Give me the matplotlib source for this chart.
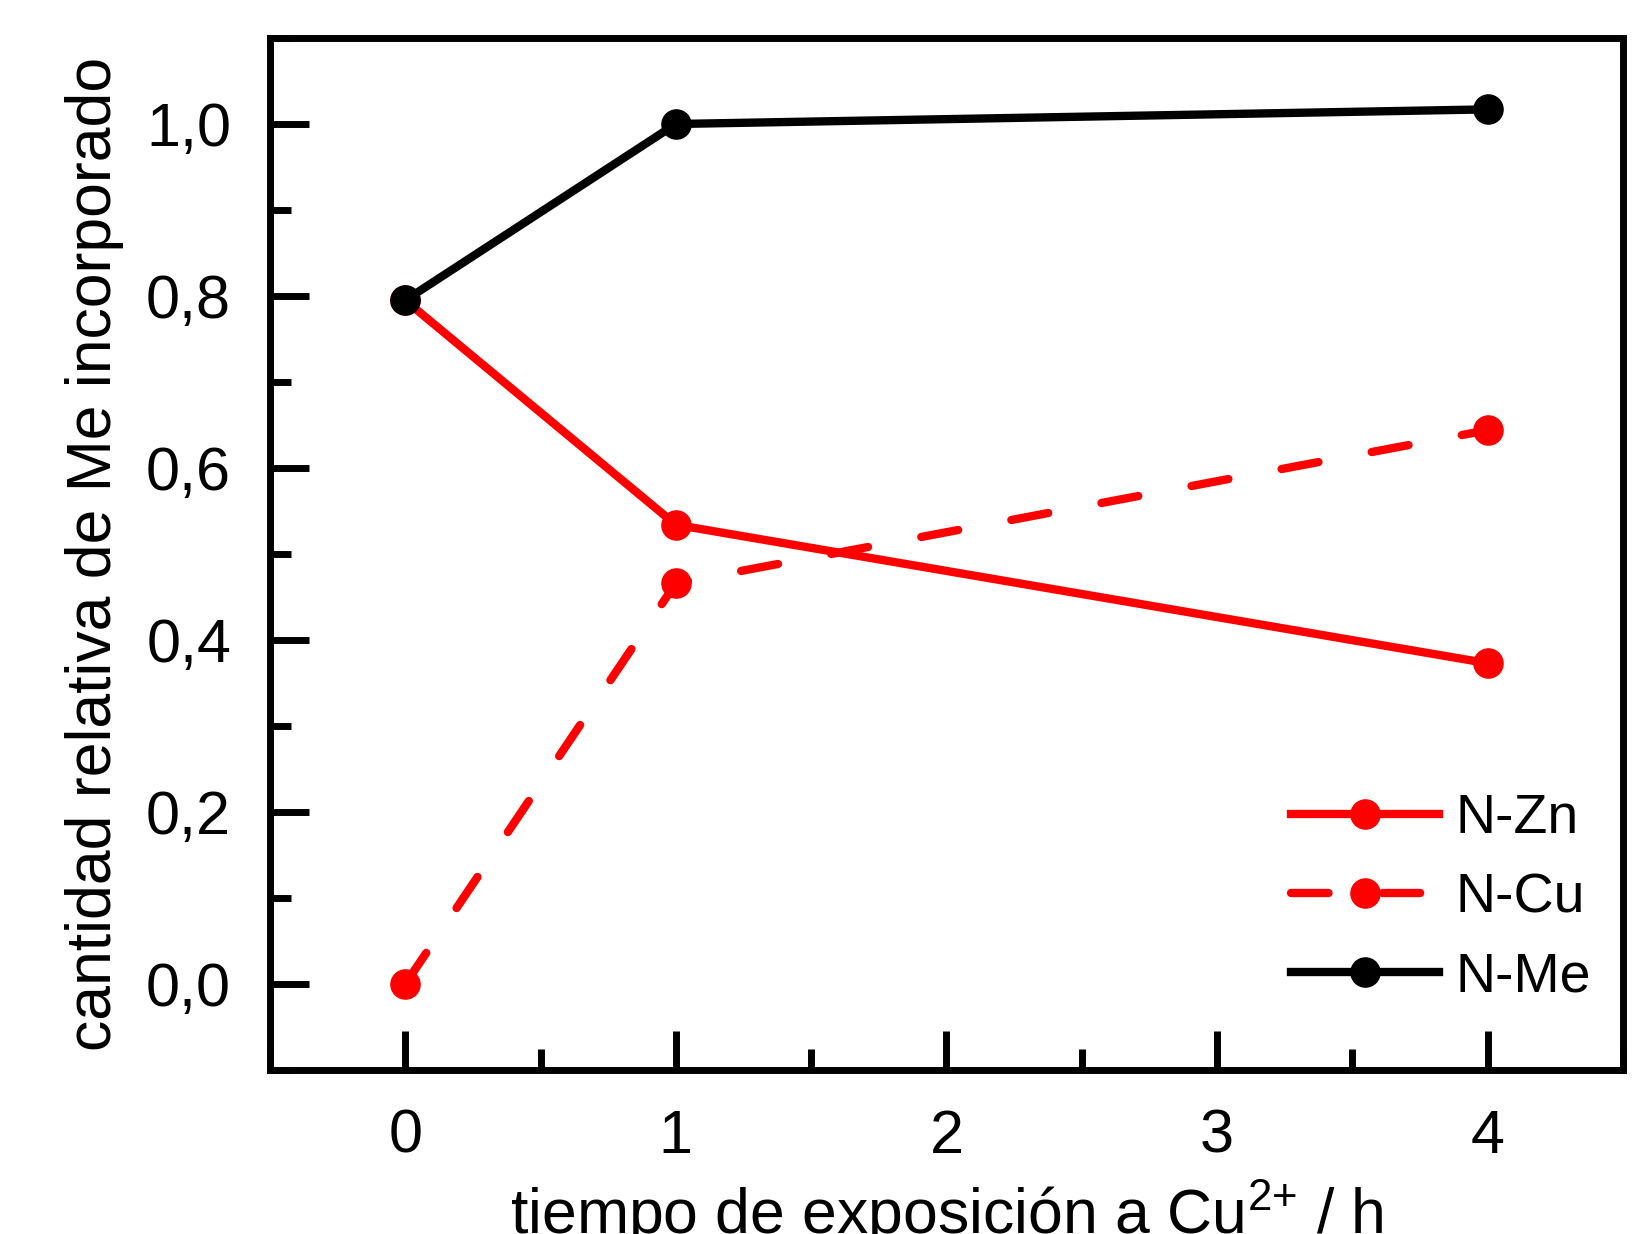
import matplotlib
matplotlib.use("Agg")
import matplotlib.pyplot as plt
from matplotlib.ticker import MultipleLocator, FuncFormatter

plt.rcParams['font.family'] = ['Liberation Sans', 'DejaVu Sans']
plt.rcParams['mathtext.fontset'] = 'custom'
plt.rcParams['mathtext.rm'] = 'Liberation Sans'

tiempo = [0, 1, 4]
n_zn = [0.795, 0.534, 0.373]
n_cu = [0.0, 0.466, 0.644]
n_me = [0.795, 1.0, 1.017]

fig = plt.figure(figsize=(16.49, 12.34), dpi=100)
ax = fig.add_axes([0.1637, 0.1329, 0.8205, 0.8363])

lw = 6
ms = 21
ax.plot(tiempo, n_zn, color='red', lw=lw, marker='o', ms=ms, label='N-Zn')
ax.plot(tiempo, n_cu, color='red', lw=lw, marker='o', ms=ms, label='N-Cu',
        dashes=(4.5, 6.5), dash_capstyle='round')
ax.plot(tiempo, n_me, color='black', lw=lw, marker='o', ms=ms, label='N-Me')

ax.set_xlim(-0.5, 4.5)
ax.set_ylim(-0.1, 1.1)
ax.xaxis.set_major_locator(MultipleLocator(1))
ax.xaxis.set_minor_locator(MultipleLocator(0.5))
ax.yaxis.set_major_locator(MultipleLocator(0.2))
ax.yaxis.set_minor_locator(MultipleLocator(0.1))
ax.yaxis.set_major_formatter(FuncFormatter(lambda v, p: f"{v:.1f}".replace('.', ',')))

for s in ax.spines.values():
    s.set_linewidth(5)
ax.tick_params(which='both', direction='in', width=5, labelsize=44, pad=28)
ax.tick_params(which='major', length=28)
ax.tick_params(which='minor', length=15)

ax.set_xlabel('tiempo de exposición a Cu$^{2{+}}$ / h', fontsize=45, labelpad=8)
ax.set_ylabel('cantidad relativa de Me incorporado', fontsize=45, labelpad=16)

ax.legend(loc='lower right', frameon=False, fontsize=40, handlelength=2.67,
          handletextpad=0.29, labelspacing=0.49, borderaxespad=0.5,
          bbox_to_anchor=(1.013, 0.016))

fig.savefig('out.png', dpi=100)
